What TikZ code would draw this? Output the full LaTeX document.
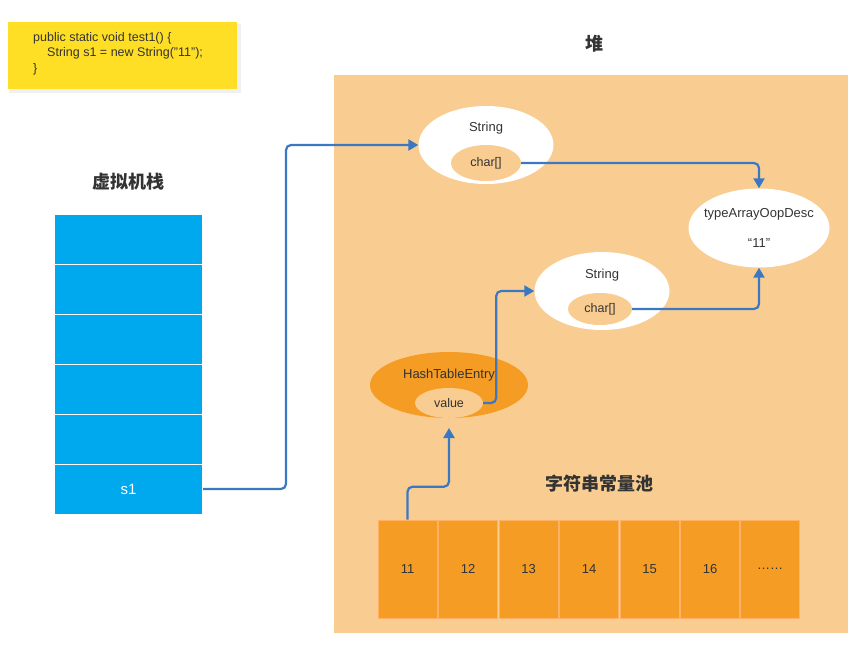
\documentclass[tikz,border=0pt]{standalone}
\usepackage{fontspec}
\setmainfont{Liberation Sans}
\newfontfamily\cjk{Noto Sans CJK SC}
\usetikzlibrary{shapes.geometric,arrows.meta}
\definecolor{heap}{HTML}{F9CD91}
\definecolor{codey}{HTML}{FFDF26}
\definecolor{stackb}{HTML}{00A9EE}
\definecolor{orng}{HTML}{F49C24}
\definecolor{arrb}{HTML}{3B78C3}
\definecolor{txt}{HTML}{333333}
\tikzset{
  oval/.style={ellipse,inner sep=0pt,fill=white,draw=none},
  inner/.style={ellipse,inner sep=0pt,fill=heap,draw=none,minimum width=70pt,minimum height=36pt,font=\fontsize{12.5}{14}\selectfont,text=txt},
  lbl/.style={font=\fontsize{13}{15}\selectfont,text=txt},
  title/.style={font=\cjk\bfseries\fontsize{18}{21}\selectfont,text=txt},
  cell/.style={rectangle,fill=stackb,draw=white,line width=1pt,minimum width=148pt,minimum height=50pt,inner sep=0pt},
  pool/.style={rectangle,fill=orng,draw=orange!60!white,line width=0.6pt,minimum width=59pt,minimum height=98pt,inner sep=0pt,font=\fontsize{13}{15}\selectfont,text=txt},
  arr/.style={draw=arrb,line width=2.2pt,rounded corners=5pt,-{Triangle[length=10pt,width=11pt]}},
}
\begin{document}
\begin{tikzpicture}[x=1pt,y=-1pt]
\useasboundingbox (0,0) rectangle (865,646);
\fill[white] (0,0) rectangle (865,646);
% code box
\fill[black!10] (10,25) rectangle (240,92);
\fill[black!6] (9,24) rectangle (241,93);
\node[rectangle,fill=codey,minimum width=229pt,minimum height=67pt,inner sep=0pt] (code) at (122.5,55.5) {};
\node[anchor=north west,align=left,font=\fontsize{12.5}{15.5}\selectfont,text=txt,inner sep=0pt] (codetxt) at (33,32)
  {public static void test1() \{\\\hspace*{14pt}String s1 = new String("11");\\\}};
% heap
\node[rectangle,fill=heap,minimum width=514pt,minimum height=558pt,inner sep=0pt] (heapbg) at (591,354) {};
\node[title] (heapt) at (594,44) {堆};
% stack
\node[title] (stackt) at (128,182) {虚拟机栈};
\node[cell] (c1) at (128.5,239) {};
\node[cell] (c2) at (128.5,289) {};
\node[cell] (c3) at (128.5,339) {};
\node[cell] (c4) at (128.5,389) {};
\node[cell] (c5) at (128.5,439) {};
\node[cell,font=\fontsize{15}{17}\selectfont,text=white] (s1) at (128.5,489) {s1};
% String 1
\node[oval,minimum width=135pt,minimum height=78pt] (str1) at (486,145) {};
\node[lbl] (str1t) at (486,128) {String};
\node[inner] (char1) at (486,163) {char[]};
% typeArrayOopDesc
\node[oval,minimum width=141pt,minimum height=79pt] (toa) at (759,228) {};
\node[lbl] (toat) at (759,214) {typeArrayOopDesc};
\node[lbl] (toav) at (759,243) {“11”};
% String 2
\node[oval,minimum width=135pt,minimum height=78pt] (str2) at (602,291) {};
\node[lbl] (str2t) at (602,275) {String};
\node[inner,minimum width=64pt,minimum height=32pt] (char2) at (600,309) {char[]};
% HashTableEntry
\node[ellipse,inner sep=0pt,fill=orng,minimum width=158pt,minimum height=66pt] (hte) at (449,385) {};
\node[lbl] (htet) at (449,375) {HashTableEntry};
\node[inner,minimum width=68pt,minimum height=30pt] (value) at (449,403) {value};
\coordinate (hteb) at (449,428);
% pool
\node[title] (poolt) at (599,484) {字符串常量池};
\node[pool] (p1) at (407.5,569) {11};
\node[pool] (p2) at (468,569) {12};
\node[pool] (p3) at (528.5,569) {13};
\node[pool] (p4) at (589,569) {14};
\node[pool] (p5) at (649.5,569) {15};
\node[pool] (p6) at (710,569) {16};
\node[pool] (p7) at (770,569) {……};
% arrows
\draw[arr] (s1.east) -- ++(83,0) |- (str1.west);
\draw[arr] (char1.east) -| (toa.north);
\draw[arr] (char2.east) -| (toa.south);
\draw[arr] (value.east) -- ++(13,0) |- (str2.west);
\draw[arr] (p1.north) -- ++(0,-33) -| (hteb);
\end{tikzpicture}
\end{document}
